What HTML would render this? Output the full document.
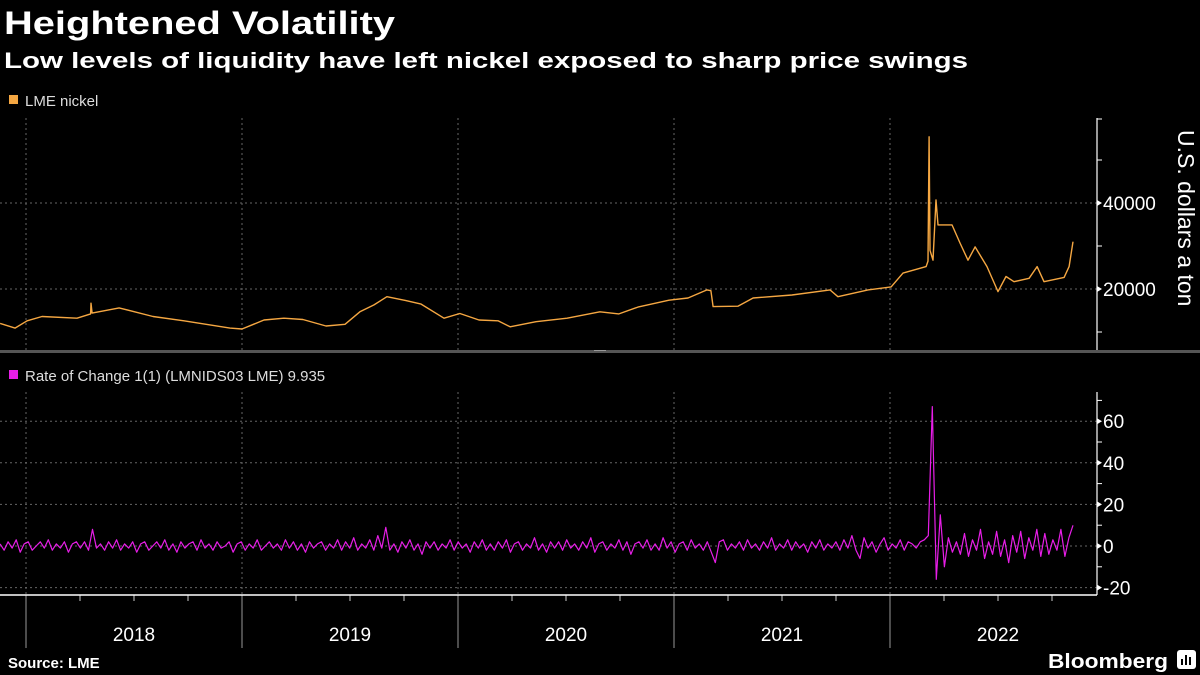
<!DOCTYPE html>
<html><head><meta charset="utf-8">
<style>
html,body{margin:0;padding:0;background:#000;}
svg{display:block;}
text{font-family:"Liberation Sans",sans-serif;}
</style></head>
<body>
<svg id="chart" width="1200" height="675" viewBox="0 0 1200 675">
  <rect x="0" y="0" width="1200" height="675" fill="#000"/>
  <text x="4" y="34" font-family="DejaVu Sans" font-weight="bold" font-size="32" fill="#fff" textLength="391" lengthAdjust="spacingAndGlyphs">Heightened Volatility</text>
  <text x="4" y="68" font-family="DejaVu Sans" font-weight="bold" font-size="22" fill="#fff" textLength="964" lengthAdjust="spacingAndGlyphs">Low levels of liquidity have left nickel exposed to sharp price swings</text>
  <rect x="9" y="95" width="9" height="9" fill="#f5a742"/>
  <text x="25" y="106" font-size="15" fill="#ddd">LME nickel</text>
  <rect x="9" y="370" width="9" height="9" fill="#e81ee8"/>
  <text x="25" y="381" font-size="15" fill="#ddd">Rate of Change 1(1) (LMNIDS03 LME) 9.935</text>
  <rect x="0" y="350" width="1200" height="3" fill="#555"/>
  <rect x="594" y="350" width="12" height="1" fill="#999"/>
  <g id="grid"></g>
  <g id="axes"></g>
  <g id="series"></g>
  <text transform="translate(1178,130) rotate(90)" font-size="23" fill="#fff">U.S. dollars a ton</text>
  <text x="8" y="668" font-family="DejaVu Sans" font-weight="bold" font-size="15" fill="#fff">Source: LME</text>
  <text x="1048" y="668" font-family="DejaVu Sans" font-weight="bold" font-size="20" fill="#fff" textLength="120" lengthAdjust="spacingAndGlyphs">Bloomberg</text>
  <g>
    <rect x="1177" y="650" width="19" height="19" rx="3" fill="#fff"/>
    <rect x="1181" y="659" width="2" height="6" fill="#000"/>
    <rect x="1185" y="655" width="2" height="10" fill="#000"/>
    <rect x="1189" y="657" width="2" height="8" fill="#000"/>
  </g>
</svg>
<script>
// ---- data ----
const priceDates = [2017.880,2017.949,2018.005,2018.074,2018.236,2018.299,2018.301,2018.306,2018.431,2018.588,2018.731,2018.944,2019.000,2019.102,2019.194,2019.282,2019.389,2019.477,2019.546,2019.611,2019.671,2019.759,2019.829,2019.935,2020.009,2020.097,2020.185,2020.241,2020.361,2020.505,2020.657,2020.745,2020.833,2020.977,2021.065,2021.153,2021.171,2021.181,2021.296,2021.366,2021.546,2021.722,2021.759,2021.898,2022.005,2022.060,2022.167,2022.176,2022.181,2022.185,2022.199,2022.213,2022.222,2022.287,2022.324,2022.361,2022.394,2022.449,2022.500,2022.537,2022.574,2022.644,2022.681,2022.713,2022.806,2022.829,2022.847];
const priceValues = [12000,10900,12600,13600,13200,14200,16700,14400,15600,13600,12600,10900,10700,12800,13200,12900,11400,11800,14700,16300,18200,17300,16500,13200,14300,12800,12600,11200,12400,13200,14700,14200,15800,17400,17900,19800,19600,15900,16000,17900,18600,19800,18200,19800,20500,23700,25200,26500,55400,29000,26700,40700,34900,34900,30700,26700,29800,25200,19400,22900,21700,22500,25200,21700,22700,25200,31000];
const priceTicks = [20000,40000];
const rocStart = 2017.880;
const rocEnd = 2022.847;
const rocValues = [
1,-2,2,-1,3,-3,1,2,-2,0,2,-1,3,-2,1,-1,2,-3,1,2,
-1,2,-2,8,-1,1,-2,2,-1,3,-2,1,-1,2,-3,1,2,-2,0,2,
-1,3,-2,1,-3,2,-1,1,2,-2,3,-1,1,-2,2,-1,0,2,-3,1,
2,-2,1,-1,3,-2,0,2,-1,1,-2,3,-1,2,-2,1,-3,2,-1,1,
2,-2,1,-1,3,-2,2,-1,4,-2,1,-1,3,-2,5,-1,9,-2,1,-3,
2,-1,3,-2,1,-4,2,-1,2,-2,1,-1,3,-2,2,-1,1,-3,2,-1,
3,-2,1,-2,2,-1,3,-3,1,2,-2,1,-1,4,-2,1,-3,2,-1,2,
-2,3,-1,1,-2,2,-1,4,-3,1,2,-2,1,-1,3,-2,2,-4,1,2,
-1,3,-2,1,-2,4,-1,2,-3,1,2,-2,3,-1,1,-2,2,-3,-8,2,
3,-2,1,-1,2,-2,3,-1,1,-2,2,-1,4,-2,1,-1,3,-2,2,-1,
1,-3,2,-1,3,-2,1,-1,2,-2,3,-1,5,-2,-6,4,-1,2,-3,1,
4,-2,1,-1,3,-2,2,1,-1,2,3,5,67,-16,15,-10,4,-3,2,-4,
6,-5,3,-2,8,-6,2,-4,7,-5,3,-8,5,-3,7,-6,4,-2,8,-5,
6,-4,3,-2,8,-5,4,9.935];
const rocTicks = [-20,0,20,40,60];
const yearLabels = ["2018","2019","2020","2021","2022"];

// ---- scales ----
const NS = "http://www.w3.org/2000/svg";
const x = t => 26 + (t - 2018) * 216;
const yP = v => 375 - v / 20000 * 86;
const yR = v => 546 - v / 20 * 41.6;
const AX = 1097;
function mk(tag, attrs, parent) {
  const e = document.createElementNS(NS, tag);
  for (const k in attrs) e.setAttribute(k, attrs[k]);
  parent.appendChild(e);
  return e;
}
const grid = document.getElementById('grid');
const axes = document.getElementById('axes');
const series = document.getElementById('series');

// horizontal gridlines
priceTicks.forEach(v => {
  const l = mk('line', {x1:0, x2:AX, y1:yP(v), y2:yP(v), stroke:'#666', 'stroke-dasharray':'2,3', 'stroke-width':1}, grid);
  
  
});
rocTicks.forEach(v => {
  const l = mk('line', {x1:0, x2:AX, y1:yR(v), y2:yR(v), stroke:'#666', 'stroke-dasharray':'2,3', 'stroke-width':1}, grid);
  
  
});
// vertical gridlines + year separators
yearLabels.forEach((lab, i) => {
  const xx = x(2018 + i);
  const g1 = mk('line', {x1:xx, x2:xx, y1:118, y2:350, stroke:'#666', 'stroke-dasharray':'2,3'}, grid);
  
  
  const g2 = mk('line', {x1:xx, x2:xx, y1:392, y2:595, stroke:'#666', 'stroke-dasharray':'2,3'}, grid);
  
  
  const s = mk('line', {x1:xx, x2:xx, y1:595, y2:648, stroke:'#999', 'stroke-width':1}, axes);
  
  
  for (let q = 1; q < 4; q++) {
    const qx = x(2018 + i + q / 4);
    const tk = mk('line', {x1:qx, x2:qx, y1:595, y2:601, stroke:'#ccc'}, axes);
    
    
  }
  const t = mk('text', {x:x(2018 + i + 0.5), y:641, 'font-size':19, fill:'#fff', 'text-anchor':'middle'}, axes);
  t.textContent = lab;
  
  
});
// x axis line
const xl = mk('line', {x1:0, x2:AX, y1:595, y2:595, stroke:'#fff', 'stroke-width':1.5}, axes);



// price axis
const pa = mk('line', {x1:AX, x2:AX, y1:118, y2:350, stroke:'#fff', 'stroke-width':1.2}, axes);


[10000, 30000, 50000].forEach(v => {
  const m = mk('line', {x1:AX, x2:AX + 5, y1:yP(v), y2:yP(v), stroke:'#fff'}, axes);
  
  
});
mk('line', {x1:AX, x2:AX + 5, y1:119, y2:119, stroke:'#fff'}, axes);
priceTicks.forEach(v => {
  const m = mk('path', {d:`M${AX} ${yP(v)-3} L${AX+5} ${yP(v)} L${AX} ${yP(v)+3}Z`, fill:'#fff'}, axes);
  
  
  const t = mk('text', {x:AX + 6, y:yP(v) + 7, 'font-size':19, fill:'#fff'}, axes);
  t.textContent = v;
  
  
});
// roc axis
const ra = mk('line', {x1:AX, x2:AX, y1:392, y2:595, stroke:'#fff', 'stroke-width':1.2}, axes);


[-10, 10, 30, 50, 70].forEach(v => {
  const m = mk('line', {x1:AX, x2:AX + 5, y1:yR(v), y2:yR(v), stroke:'#fff'}, axes);
  
  
});
rocTicks.forEach(v => {
  const m = mk('path', {d:`M${AX} ${yR(v)-3} L${AX+5} ${yR(v)} L${AX} ${yR(v)+3}Z`, fill:'#fff'}, axes);
  
  
  const t = mk('text', {x:AX + 6, y:yR(v) + 7, 'font-size':19, fill:'#fff'}, axes);
  t.textContent = v < 0 ? '-' + Math.abs(v) : String(v);
  
  
});

// price line
let d = '';
priceDates.forEach((t, i) => { d += (i ? 'L' : 'M') + x(t).toFixed(1) + ' ' + yP(priceValues[i]).toFixed(1); });
const pl = mk('path', {d:d, fill:'none', stroke:'#f5a742', 'stroke-width':1.4, 'stroke-linejoin':'round'}, series);



// roc line
const step = (rocEnd - rocStart) / (rocValues.length - 1);
let d2 = '';
rocValues.forEach((v, i) => { d2 += (i ? 'L' : 'M') + x(rocStart + i * step).toFixed(1) + ' ' + yR(v).toFixed(1); });
const rl = mk('path', {d:d2, fill:'none', stroke:'#e81ee8', 'stroke-width':1.2, 'stroke-linejoin':'round'}, series);


</script>
</body></html>
